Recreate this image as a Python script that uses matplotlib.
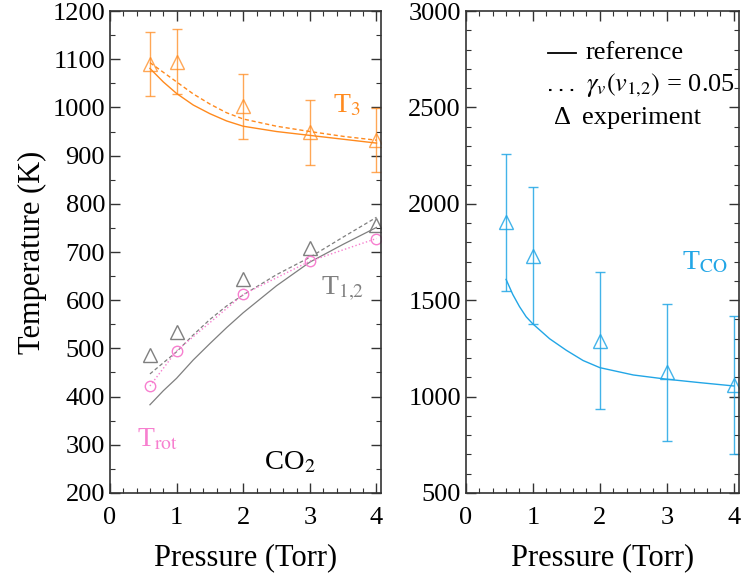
import matplotlib
matplotlib.use('Agg')
import matplotlib.pyplot as plt
from matplotlib.ticker import MultipleLocator

plt.rcParams['font.family'] = ['Liberation Serif', 'DejaVu Serif']
plt.rcParams['mathtext.fontset'] = 'stix'

# ---------------- data ----------------
pressure = [0.6, 1, 2, 3, 4]

# CO2 panel: experiment
t3_exp = [1090, 1095, 1002, 948, 932]
t3_err = [67, 67, 67, 67, 67]
t12_exp = [486, 534, 645, 708, 757]
trot_exp = [422, 495, 612, 681, 728]

# CO2 panel: model curves
p_curve = [0.6, 0.8, 1, 1.25, 1.5, 1.75, 2, 2.5, 3, 3.5, 4]
t3_ref = [1081, 1053, 1029, 1005, 987, 972, 961, 950, 942, 934, 926]
t3_gam = [1093, 1073, 1053, 1028, 1007, 989, 976, 961, 950, 940, 932]
t12_ref = [383, 412, 438, 476, 510, 543, 574, 630, 679, 716, 751]
t12_gam = [447, 470, 493, 528, 560, 588, 611, 653, 689, 731, 772]

# CO panel
tco_exp = [1905, 1730, 1290, 1125, 1060]
tco_err = [356, 356, 356, 356, 356]
p_co = [0.6, 0.7, 0.8, 0.9, 1, 1.25, 1.5, 1.75, 2, 2.5, 3, 3.5, 4]
tco_ref = [1608, 1530, 1467, 1414, 1377, 1300, 1240, 1187, 1150, 1112, 1090, 1072, 1055]

ORANGE = '#FF8A1E'
GRAY = '#7F7F7F'
PINK = '#F77FCF'
BLUE = '#22A6E6'

fig = plt.figure(figsize=(7.43, 5.82), dpi=100)
ax1 = fig.add_axes([0.148, 0.153, 0.365, 0.828])
ax2 = fig.add_axes([0.627, 0.153, 0.367, 0.828])

# ---------------- left panel ----------------
ax1.plot(p_curve, t3_ref, '-', color=ORANGE, lw=1.0)
ax1.plot(p_curve, t3_gam, '--', color=ORANGE, lw=1.0, dashes=(3, 2))
ax1.errorbar(pressure, t3_exp, yerr=t3_err, fmt='^', mfc='none', mec=ORANGE,
             ms=10, mew=1.0, ecolor=ORANGE, elinewidth=1.0, capsize=3.6,
             capthick=1.0, alpha=0.75)

ax1.plot(p_curve, t12_ref, '-', color=GRAY, lw=0.9)
ax1.plot(p_curve, t12_gam, '--', color=GRAY, lw=0.9, dashes=(3, 2))
ax1.plot(pressure, t12_exp, '^', mfc='none', mec=GRAY, ms=10, mew=1.0)

ax1.plot(pressure, trot_exp, ':', color=PINK, lw=1.0, marker='o', mfc='none',
         mec=PINK, ms=7.5, mew=1.0)

ax1.text(3.35, 1003, r'T$_3$', color=ORANGE, fontsize=20, va='center')
ax1.text(3.17, 624, r'T$_{1{,}2}$', color=GRAY, fontsize=20, va='center')
ax1.text(0.40, 310, r'T$_{\mathrm{rot}}$', color=PINK, fontsize=20, va='center')
ax1.text(2.31, 264, r'CO$_2$', color='black', fontsize=20.5, va='center')

ax1.set_xlim(0, 4.07)
ax1.set_ylim(200, 1200)
ax1.yaxis.set_major_locator(MultipleLocator(100))
ax1.yaxis.set_minor_locator(MultipleLocator(50))
ax1.set_ylabel('Temperature (K)', fontsize=22, labelpad=4)

# ---------------- right panel ----------------
ax2.plot(p_co, tco_ref, '-', color=BLUE, lw=1.0)
ax2.errorbar(pressure, tco_exp, yerr=tco_err, fmt='^', mfc='none', mec=BLUE,
             ms=10, mew=1.0, ecolor=BLUE, elinewidth=1.0, capsize=3.6,
             capthick=1.0, alpha=0.85)
ax2.text(3.22, 1696, r'T$_{\mathrm{CO}}$', color=BLUE, fontsize=20, va='center')

# legend drawn as text, with short line samples
ax2.plot([1.22, 1.64], [2782, 2782], '-', color='black', lw=1.3)
ax2.text(1.78, 2782, 'reference', fontsize=19, va='center')
ax2.plot([1.24, 1.62], [2590, 2590], ':', color='black', lw=1.5, dashes=(1.2, 4))
ax2.text(1.80, 2616, r'$\gamma_v(v_{1{,}2})$ = 0.05', fontsize=19, va='center')
ax2.text(1.31, 2445, 'Δ', fontsize=19, va='center')
ax2.text(1.74, 2445, 'experiment', fontsize=19, va='center')

ax2.set_xlim(0, 4.07)
ax2.set_ylim(500, 3000)
ax2.yaxis.set_major_locator(MultipleLocator(500))
ax2.yaxis.set_minor_locator(MultipleLocator(100))

for ax in (ax1, ax2):
    ax.xaxis.set_major_locator(MultipleLocator(1))
    ax.xaxis.set_minor_locator(MultipleLocator(0.2))
    ax.tick_params(which='both', direction='in', top=True, right=True,
                   labelsize=19, color='#333333')
    ax.tick_params(axis='x', which='major', pad=10)
    ax.tick_params(which='major', length=7, width=1.0)
    ax.tick_params(which='minor', length=3.5, width=0.8)
    for sp in ax.spines.values():
        sp.set_color('#333333')
        sp.set_linewidth(1.2)
    ax.set_xlabel('Pressure (Torr)', fontsize=22, labelpad=10)

fig.savefig('out.png', dpi=100)
